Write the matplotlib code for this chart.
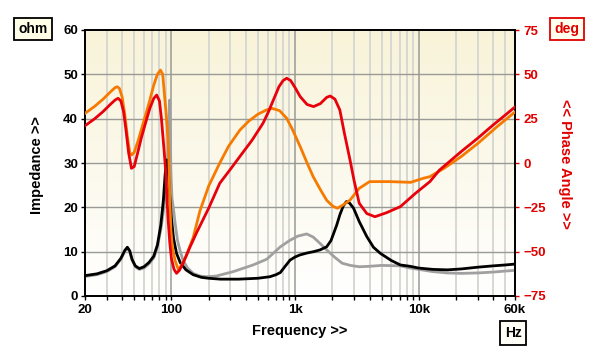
import numpy as np
import matplotlib
matplotlib.use("Agg")
import matplotlib.pyplot as plt
from matplotlib.ticker import FixedLocator, NullFormatter
from matplotlib.colors import LinearSegmentedColormap

plt.rcParams['font.family'] = ['Liberation Sans', 'DejaVu Sans']
plt.rcParams['font.weight'] = 'bold'

# ---- data ----
imp1_f = [20, 25, 30, 35, 39, 42, 44, 46, 48, 51, 55, 60, 66, 72, 77, 82, 86, 89, 92, 94,
          97, 100, 104, 110, 118, 131, 150, 175, 200, 250, 350, 500, 626, 700, 760, 820,
          870, 910, 1000, 1090, 1250, 1410, 1590, 1800, 1950, 2030, 2170, 2300, 2450,
          2600, 2750, 2970, 3300, 3800, 4300, 4900, 6000, 7100, 8500, 10000, 13000,
          17000, 22000, 30000, 40000, 50000, 60000]
imp1_z = [4.6, 5.0, 5.7, 6.8, 8.5, 10.3, 11.0, 10.2, 8.3, 6.8, 6.2, 6.6, 7.6, 9.0, 11.5,
          16.0, 21.5, 27.5, 30.7, 29.0, 22.5, 17.5, 13.0, 9.6, 7.5, 5.9, 4.8, 4.2, 4.0,
          3.8, 3.8, 4.0, 4.35, 4.8, 5.3, 6.5, 7.4, 8.1, 8.8, 9.25, 9.7, 10.0, 10.4, 11.1,
          12.5, 13.8, 16.0, 18.3, 20.3, 21.3, 21.0, 19.8, 16.8, 13.4, 11.0, 9.6, 8.0, 7.0,
          6.7, 6.3, 6.0, 5.9, 6.1, 6.5, 6.8, 7.0, 7.2]

imp2_f = [20, 25, 30, 35, 39, 42, 44, 46, 48, 51, 55, 60, 66, 72, 77, 82, 86, 90, 93, 95,
          96.5, 98, 99, 101, 104, 107, 112, 118, 124, 135, 150, 170, 192, 230, 316, 457,
          590, 760, 900, 1050, 1240, 1400, 1600, 1800, 2100, 2400, 2800, 3300, 4000,
          5000, 7100, 8500, 10000, 13000, 17000, 22000, 30000, 40000, 60000]
imp2_z = [4.4, 4.8, 5.5, 6.6, 8.3, 10.1, 10.8, 10.0, 8.1, 6.6, 6.0, 6.3, 7.3, 8.6, 11.0,
          15.0, 19.0, 24.0, 31.0, 38.0, 44.2, 36.0, 28.0, 22.0, 19.5, 16.5, 12.5, 10.0,
          8.1, 6.3, 5.1, 4.5, 4.35, 4.5, 5.5, 7.0, 8.3, 11.1, 12.5, 13.5, 14.0, 13.3, 11.8,
          10.4, 8.7, 7.4, 6.9, 6.6, 6.7, 6.9, 6.8, 6.3, 6.0, 5.5, 5.2, 5.1, 5.2, 5.4, 5.8]

ph1_f = [20, 24, 28, 32, 35, 37, 39, 41, 43, 45, 47.5, 50, 53, 57, 62, 67, 72, 76, 80, 83,
         87, 90, 92, 94, 97, 100, 105, 110, 116, 124, 140, 159, 200, 246, 300, 357, 450,
         550, 610, 667, 740, 800, 855, 920, 1000, 1100, 1250, 1410, 1600, 1800, 1920,
         2100, 2300, 2500, 2780, 3000, 3300, 3800, 4420, 5500, 7100, 9400, 12300, 14700,
         22000, 30000, 40000, 50000, 60000]
ph1_p = [21, 25, 29, 33, 35.5, 36.5, 35, 29, 18, 6, -3, -2, 5, 14, 23, 31, 36.5, 38.3, 35,
         25, 8, -5, -20, -32, -45, -54, -60, -62.2, -60.5, -56.6, -48, -39.6, -25.5, -11.4,
         -3.5, 3.6, 13, 22.4, 29, 35.5, 43, 46.5, 47.8, 46.5, 42.5, 37.4, 33, 31.8, 33.5,
         37, 37.8, 36, 29.9, 17, 1.7, -10, -22.7, -28.5, -30.3, -28, -24.6, -17.1, -10.5,
         -4, 6.4, 14, 21.5, 27, 31.6]

ph2_f = [20, 24, 28, 32, 35, 36.5, 38, 40, 42, 44, 46, 47.6, 50, 54, 60, 66, 72, 77, 81.5,
         85, 88.6, 92.4, 95, 97, 99, 102, 107, 114, 122, 131, 150, 170, 200, 246, 290, 357,
         420, 500, 590, 652, 750, 855, 950, 1100, 1250, 1400, 1600, 1800, 2030, 2200,
         2400, 2780, 3300, 4000, 5800, 8600, 10900, 12300, 16000, 22000, 30000, 43000,
         60000]
ph2_p = [28, 32, 36, 40, 42.5, 43, 42, 37, 27, 15, 6, 4.5, 6, 13, 24, 34, 44, 50, 52.4,
         50, 35.5, 20.5, 5, -20, -38, -48, -55, -60.3, -57, -52.8, -42, -27, -13, 0, 9.5,
         18.5, 23.5, 27.5, 30.0, 30.8, 29.5, 25.2, 19, 9.2, 0, -7.7, -15, -21, -24.5, -25.5,
         -24, -20.9, -14.3, -10.5, -10.5, -10.9, -8.6, -7.7, -3, 3.6, 11, 20.5, 28.8]

x_ticks = [20, 100, 1000, 10000, 60000]
x_labels = ['20', '100', '1k', '10k', '60k']
z_ticks = [0, 10, 20, 30, 40, 50, 60]
p_ticks = [-75, -50, -25, 0, 25, 50, 75]

# ---- figure ----
W, H = 600, 356
fig = plt.figure(figsize=(6.0, 3.56), dpi=100)
fig.patch.set_facecolor('white')
ax = fig.add_axes([85 / W, 60 / H, 430 / W, 266 / H])
ax.set_xscale('log')
ax.set_xlim(20, 60000)
ax.set_ylim(0, 60)

# gradient background
grad = np.linspace(0, 1, 256).reshape(-1, 1)
cmap = LinearSegmentedColormap.from_list('bg', ['#FFFFFF', '#F8F3D8'])
ax.imshow(grad, aspect='auto', cmap=cmap, origin='lower',
          extent=[0, 1, 0, 1], transform=ax.transAxes, zorder=0)
ax.set_facecolor('white')

# grid lines
minor = []
for dec in [10, 100, 1000, 10000]:
    for m in range(2, 10):
        v = m * dec
        if 20 < v < 60000 and v not in (100, 1000, 10000):
            minor.append(v)
for v in minor:
    ax.axvline(v, color='#D8D8D2', lw=1.4, zorder=1)
for v in [100, 1000, 10000]:
    ax.axvline(v, color='#9A9A96', lw=1.1, zorder=1)
for v in z_ticks[1:-1]:
    ax.axhline(v, color='#9A9A96', lw=1.0, zorder=1)

ax.plot(imp2_f, imp2_z, color='#A0A0A0', lw=2.0, zorder=3, solid_joinstyle='round')
ax.plot(imp1_f, imp1_z, color='#000000', lw=2.0, zorder=4, solid_joinstyle='round')

ax.xaxis.set_major_locator(FixedLocator(x_ticks))
ax.set_xticklabels(x_labels)
ax.xaxis.set_minor_locator(FixedLocator(minor + [100, 1000, 10000]))
ax.xaxis.set_minor_formatter(NullFormatter())
ax.tick_params(axis='x', which='both', direction='out', length=3, width=1,
               labelsize=9.5, pad=3, colors='black')
ax.set_yticks(z_ticks)
ax.tick_params(axis='y', direction='out', length=3, width=1, labelsize=9.5, pad=2)
for lab in ax.get_xticklabels() + ax.get_yticklabels():
    lab.set_fontweight('bold')
for s in ax.spines.values():
    s.set_linewidth(1.3)
    s.set_color('black')

ax2 = ax.twinx()
ax2.set_ylim(-75, 75)
ax2.plot(ph2_f, ph2_p, color='#F77A00', lw=2.0, zorder=3, solid_joinstyle='round')
ax2.plot(ph1_f, ph1_p, color='#E8000B', lw=2.0, zorder=4, solid_joinstyle='round')
ax2.set_yticks(p_ticks)
ax2.tick_params(axis='y', direction='out', length=3, width=1, labelsize=9.5, pad=3,
                colors='#E00000')
for lab in ax2.get_yticklabels():
    lab.set_fontweight('bold')
for s in ax2.spines.values():
    s.set_linewidth(1.3)
    s.set_color('black')

# labels and boxes
def fx(px):
    return px / W

def fy(py):
    return 1 - py / H

fig.text(fx(37), fy(165), 'Impedance >>', rotation=90, ha='center', va='center',
         fontsize=10.5, fontweight='bold', color='black')
fig.text(fx(565), fy(164), '<< Phase Angle >>', rotation=270, ha='center', va='center',
         fontsize=10.5, fontweight='bold', color='#E00000')
fig.text(fx(300), fy(331), 'Frequency >>', ha='center', va='center',
         fontsize=10.5, fontweight='bold', color='black')
fig.text(fx(33), fy(29), 'ohm', ha='center', va='center', fontsize=10, fontweight='bold',
         color='black',
         bbox=dict(boxstyle='square,pad=0.3', fc='#FFFFE8', ec='black', lw=1.3))
fig.text(fx(567), fy(29), 'deg', ha='center', va='center', fontsize=10, fontweight='bold',
         color='#E00000',
         bbox=dict(boxstyle='square,pad=0.3', fc='#FFFFF0', ec='#E00000', lw=1.3))
fig.text(fx(513), fy(333), 'Hz', ha='center', va='center', fontsize=10, fontweight='bold',
         color='black',
         bbox=dict(boxstyle='square,pad=0.35', fc='#FFFFF8', ec='black', lw=1.3))

fig.savefig('out.png', dpi=100, facecolor='white')
